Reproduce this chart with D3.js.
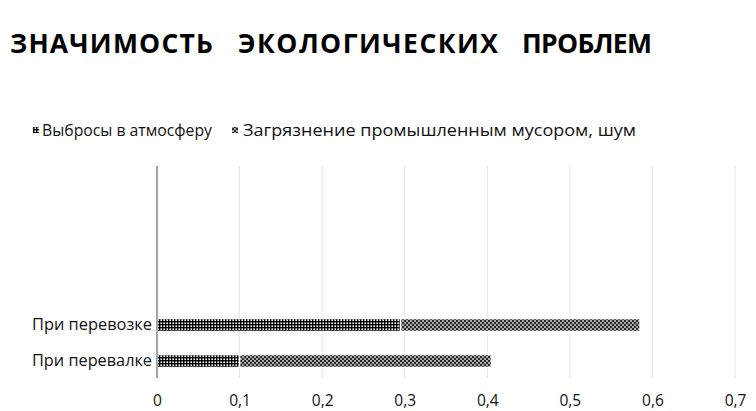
<!DOCTYPE html>
<html><head><meta charset="utf-8">
<script src="https://cdn.jsdelivr.net/npm/d3@7/dist/d3.min.js"></script>
<style>body{margin:0;background:#fff}svg{display:block}</style>
</head><body>
<script>
const title = "ЗНАЧИМОСТЬ ЭКОЛОГИЧЕСКИХ ПРОБЛЕМ";
const categories = ["При перевалке", "При перевозке", "", "", "", ""];
const seriesNames = ["Выбросы в атмосферу", "Загрязнение промышленным мусором, шум"];
const emissions = [0.1, 0.295, 0, 0, 0, 0];
const waste = [0.305, 0.29, 0, 0, 0, 0];
const xTicks = [0, 0.1, 0.2, 0.3, 0.4, 0.5, 0.6, 0.7];
const xTickLabels = ["0", "0,1", "0,2", "0,3", "0,4", "0,5", "0,6", "0,7"];

const W = 756, H = 411;
const svg = d3.select("body").append("svg").attr("width", W).attr("height", H);
const defs = svg.append("defs");
const p1 = defs.append("pattern").attr("id", "pat1").attr("patternUnits", "userSpaceOnUse").attr("width", 3).attr("height", 3);
p1.append("rect").attr("width", 3).attr("height", 3).attr("fill", "#fff");
p1.append("rect").attr("width", 3).attr("height", 1.4).attr("fill", "#000");
p1.append("rect").attr("width", 1.4).attr("height", 3).attr("fill", "#000");
const p2 = defs.append("pattern").attr("id", "pat2").attr("patternUnits", "userSpaceOnUse").attr("width", 4).attr("height", 4);
p2.append("rect").attr("width", 4).attr("height", 4).attr("fill", "#a8a8a8");
p2.append("rect").attr("width", 2).attr("height", 2).attr("fill", "#2a2a2a");
p2.append("rect").attr("x", 2).attr("y", 2).attr("width", 2).attr("height", 2).attr("fill", "#2a2a2a");
const fills = ["url(#pat1)", "url(#pat2)"];

// title: words laid out separately to mimic letter and word spacing
const words = title.split(" ");
const wordX = [10, 238, 522], wordW = [203, 260, 130];
words.forEach((w, k) => {
  svg.append("text").attr("x", wordX[k]).attr("y", 53)
    .attr("font-family", "Open Sans").attr("font-weight", 700).attr("font-size", 26.5)
    .attr("textLength", wordW[k]).attr("lengthAdjust", "spacing")
    .attr("fill", "#000").text(w);
});

const x = d3.scaleLinear().domain([0, 0.7]).range([157, 735]);
const y = d3.scaleBand().domain(d3.range(categories.length)).range([379, 163]).paddingInner(0.64).paddingOuter(0.32);

// grid
svg.append("g").selectAll("line").data(xTicks.slice(1)).join("line")
  .attr("x1", d => x(d)).attr("x2", d => x(d)).attr("y1", 166).attr("y2", 378)
  .attr("stroke", "#e6e6e6").attr("stroke-width", 1);

// bars
const stackData = categories.map((c, i) => ({i, a: emissions[i], b: waste[i]}));
const stack = d3.stack().keys(["a", "b"])(stackData);
svg.append("g").selectAll("g").data(stack).join("g").attr("fill", (d, k) => fills[k])
  .selectAll("rect").data(d => d.filter(s => s[1] > s[0])).join("rect")
  .attr("x", d => x(d[0])).attr("width", d => x(d[1]) - x(d[0]))
  .attr("y", d => y(d.data.i)).attr("height", y.bandwidth())
  .attr("stroke", "#fff").attr("stroke-width", 1.5);

// vertical axis
const yAxis = svg.append("g").attr("transform", "translate(157,0)")
  .call(d3.axisLeft(y).tickSize(0).tickPadding(5).tickFormat(i => categories[i]));
yAxis.select(".domain").remove();
svg.append("line").attr("x1", 157).attr("x2", 157).attr("y1", 166).attr("y2", 378)
  .attr("stroke", "#a6a6a6").attr("stroke-width", 2.2);
yAxis.selectAll("text").attr("font-family", "Open Sans").attr("font-size", 15.5).attr("fill", "#111")
  .attr("textLength", d => categories[d] ? 120 : null).attr("lengthAdjust", "spacingAndGlyphs");

// x axis labels
const xAxis = svg.append("g").attr("transform", "translate(0,389)")
  .call(d3.axisBottom(x).tickValues(xTicks).tickSize(0).tickPadding(6).tickFormat((d, i) => xTickLabels[i]));
xAxis.select(".domain").remove();
xAxis.selectAll("text").attr("font-family", "Open Sans").attr("font-size", 15.5).attr("fill", "#111");

// legend
const legX = [33, 232], legTextX = [42, 243], legW = [170, 393];
seriesNames.forEach((n, k) => {
  svg.append("rect").attr("x", legX[k]).attr("y", 127).attr("width", 6).attr("height", 6).attr("fill", fills[k]);
  svg.append("text").attr("x", legTextX[k]).attr("y", 136)
    .attr("font-family", "Open Sans").attr("font-size", 15.5).attr("fill", "#111")
    .attr("textLength", legW[k]).attr("lengthAdjust", "spacingAndGlyphs").text(n);
});
</script>
</body></html>
